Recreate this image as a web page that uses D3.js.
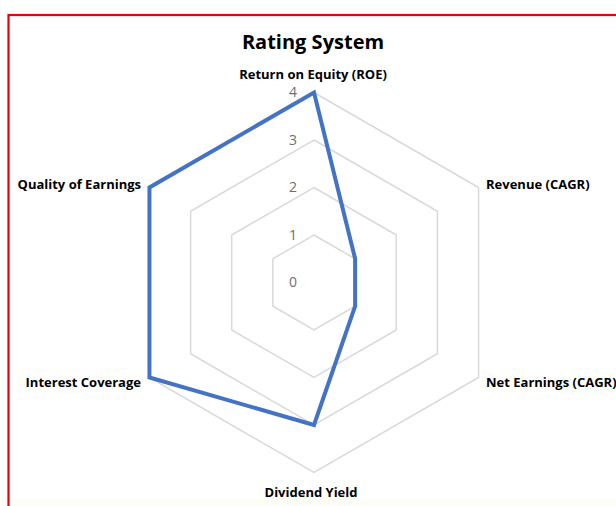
<!DOCTYPE html>
<html><head><meta charset="utf-8">
<script src="https://cdn.jsdelivr.net/npm/d3@7"></script>
<style>body{margin:0;background:#fff;}svg{display:block;}</style>
</head><body>
<script>
const categories = ["Return on Equity (ROE)", "Revenue (CAGR)", "Net Earnings (CAGR)", "Dividend Yield", "Interest Coverage", "Quality of Earnings"];
const values = [4, 1, 1, 3, 4, 4];
const tickValues = [0, 1, 2, 3, 4];
const title = "Rating System";

const W = 616, H = 506;
const cx = 314, cy = 282.5, R = 190;
const svg = d3.select("body").append("svg").attr("width", W).attr("height", H);

svg.append("rect").attr("x", 0).attr("y", 0).attr("width", W).attr("height", H).attr("fill", "#fff");
svg.append("rect").attr("x", 0).attr("y", 498).attr("width", W).attr("height", 8).attr("fill", "#fdfdf8");
svg.append("rect").attr("x", 8.5).attr("y", 15).attr("width", 640).attr("height", 540)
  .attr("fill", "none").attr("stroke", "#e8000b").attr("stroke-width", 2.2);

const r = d3.scaleLinear().domain([0, 4]).range([0, R]);
const ang = d3.scalePoint().domain(categories).range([0, 2 * Math.PI * (categories.length - 1) / categories.length]);
const pt = (c, v) => [cx + r(v) * Math.sin(ang(c)), cy - r(v) * Math.cos(ang(c))];

const g = svg.append("g");
tickValues.filter(t => t > 0).forEach(t => {
  g.append("path")
    .attr("d", d3.line()(categories.map(c => pt(c, t))) + "Z")
    .attr("fill", "none").attr("stroke", "#d9d9d9").attr("stroke-width", 1.5);
});

svg.append("path")
  .attr("d", d3.line()(categories.map((c, i) => pt(c, values[i]))) + "Z")
  .attr("fill", "none").attr("stroke", "#4472c4").attr("stroke-width", 4).attr("stroke-linejoin", "miter");

tickValues.forEach(t => {
  svg.append("text").attr("x", cx - 21).attr("y", cy - r(t)).attr("dy", "0.35em")
    .attr("text-anchor", "middle").attr("font-family", "Open Sans, sans-serif").attr("font-size", 14)
    .attr("fill", "#6f6f6f").text(t);
});

svg.append("text").attr("x", 313).attr("y", 49).attr("text-anchor", "middle")
  .attr("font-family", "Open Sans, sans-serif").attr("font-weight", "bold").attr("font-size", 20)
  .attr("fill", "#000").text(title);

const labelPos = {
  "Return on Equity (ROE)": {x: 313, y: 74, a: "middle"},
  "Revenue (CAGR)": {x: 486, y: 184, a: "start"},
  "Net Earnings (CAGR)": {x: 486, y: 382, a: "start"},
  "Dividend Yield": {x: 311, y: 492, a: "middle"},
  "Interest Coverage": {x: 141, y: 382, a: "end"},
  "Quality of Earnings": {x: 141, y: 184, a: "end"}
};
categories.forEach(c => {
  const p = labelPos[c];
  svg.append("text").attr("x", p.x).attr("y", p.y).attr("dy", "0.35em").attr("text-anchor", p.a)
    .attr("font-family", "Open Sans, sans-serif").attr("font-weight", "bold").attr("font-size", 13)
    .attr("fill", "#000").text(c);
});
</script>
</body></html>
